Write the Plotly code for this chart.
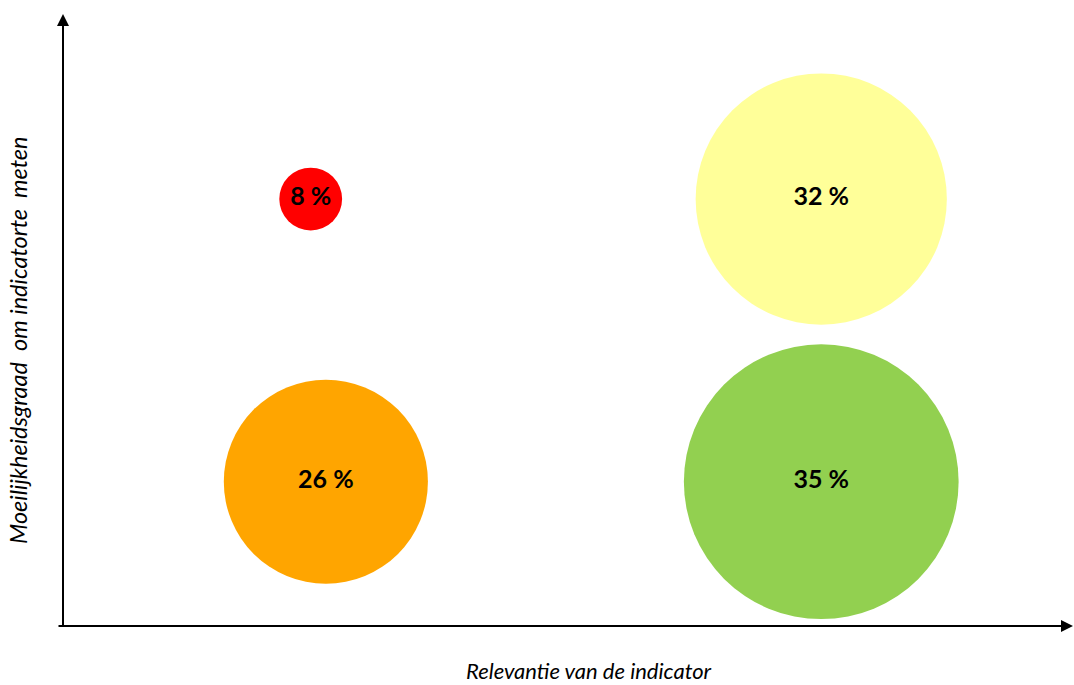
import plotly.graph_objects as go

# Data
labels = ["8 %", "26 %", "32 %", "35 %"]
shares = [8, 26, 32, 35]
relevance = [0.98, 1.04, 3.0, 3.0]
difficulty = [2.93, 0.99, 2.93, 0.99]
colors = ["#FF0000", "#FFA500", "#FFFF99", "#92D050"]

x_title = "Relevantie van de indicator"
y_title = "Moeilijkheidsgraad\u00a0 om indicatorte\u00a0 meten"

FONT = "Lato, 'Open Sans', sans-serif"

fig = go.Figure()
fig.add_trace(go.Scatter(
    x=relevance, y=difficulty,
    mode="markers+text",
    text=labels,
    textposition="middle center",
    textfont=dict(family=FONT, size=25, color="#000000", weight="bold"),
    marker=dict(size=shares, sizemode="diameter", sizeref=1 / 7.85,
                color=colors, opacity=1, line=dict(width=0)),
    hoverinfo="skip",
    showlegend=False,
))

fig.update_layout(
    width=1074, height=685,
    margin=dict(l=63, r=0, t=14, b=59),
    paper_bgcolor="white", plot_bgcolor="white",
    xaxis=dict(range=[0, 4], showgrid=False, zeroline=False, showline=False,
               showticklabels=False, ticks="", fixedrange=True),
    yaxis=dict(range=[0, 4.2], showgrid=False, zeroline=False, showline=False,
               showticklabels=False, ticks="", fixedrange=True),
    font=dict(family=FONT),
    annotations=[
        # y axis with arrow
        dict(xref="paper", yref="paper", x=0, y=1, ax=0, ay=614,
             axref="pixel", ayref="pixel", text="", showarrow=True,
             arrowhead=2, arrowsize=1.2, arrowwidth=2, arrowcolor="#000000",
             standoff=0),
        # x axis with arrow
        dict(xref="paper", yref="paper", x=1, y=0, ax=-1017, ay=0,
             axref="pixel", ayref="pixel", text="", showarrow=True,
             arrowhead=2, arrowsize=1.2, arrowwidth=2, arrowcolor="#000000",
             standoff=0),
        dict(xref="paper", yref="paper", x=(589 - 63) / 1011, y=-44 / 612,
             text="<i>" + x_title + "</i>", showarrow=False,
             font=dict(family=FONT, size=22, color="#000000"),
             xanchor="center", yanchor="middle", borderpad=0),
        dict(xref="paper", yref="paper", x=-45 / 1011, y=(626 - 340) / 612,
             text="<i>" + y_title + "</i>", showarrow=False, textangle=-90,
             font=dict(family=FONT, size=23.5, color="#000000"),
             xanchor="center", yanchor="middle"),
    ],
)

fig.write_html("out.html",
               config={"displayModeBar": False},
               post_script="document.body.style.margin='0';document.body.style.padding='0';")
